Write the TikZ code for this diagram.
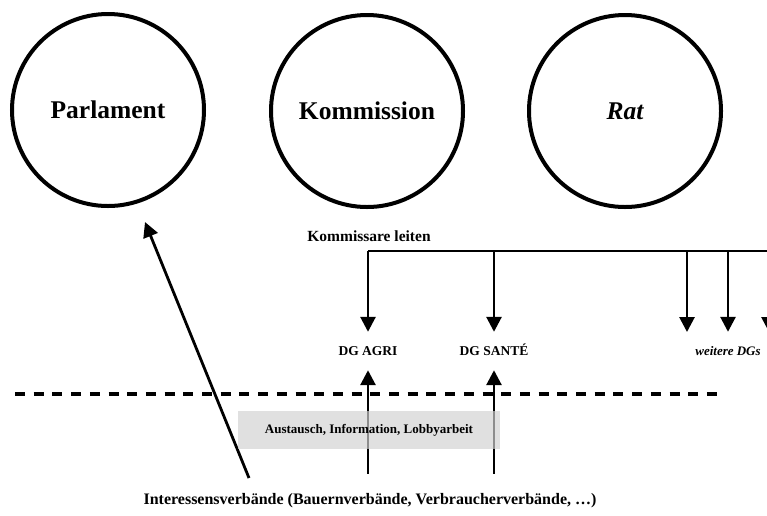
\documentclass[tikz,border=0pt]{standalone}
\usepackage{fontspec}
\setmainfont{Liberation Serif}
\usetikzlibrary{arrows.meta,positioning}

\begin{document}
\begin{tikzpicture}[x=1pt,y=-1pt,>={Triangle[width=15pt,length=15pt]}]
        \tikzstyle{body}=[circle,draw,line width=4pt,minimum size=192pt,inner sep=0pt,font=\bfseries\fontsize{25.5}{30}\selectfont]
        \tikzstyle{dg}=[minimum height=38pt,text height=9pt,text depth=0pt,inner sep=0pt,font=\bfseries\fontsize{13.5}{16}\selectfont]
        \tikzstyle{conn}=[->,line width=2.8pt]
        \useasboundingbox (0,0) rectangle (767,515);
        \clip (0,0) rectangle (767,515);

        % EU institutions
        \node (parl)[body] at (108,110) {Parlament};
        \node (komm)[body] at (367,111) {Kommission};
        \node (rat)[body] at (625,111) {\itshape Rat};

        % Commissioners and DGs
        \node (leiten) at (369,236) {\bfseries\fontsize{15.5}{18}\selectfont Kommissare leiten};
        \coordinate (bar) at (368,251);
        \node (agri)[dg] at (368,351) {DG AGRI};
        \node (sante)[dg] at (494,351) {DG SANTÉ};
        \node (weitere)[dg,font=\bfseries\itshape\fontsize{13}{16}\selectfont] at (728,351) {weitere DGs};
        \coordinate (dgvier) at (687,332);
        \coordinate (dgsechs) at (769,332);

        \draw[line width=2.8pt] (bar) -- ++(420,0);
        \draw[conn] (agri |- bar) -- (agri.north);
        \draw[conn] (sante |- bar) -- (sante.north);
        \draw[conn] (dgvier |- bar) -- (dgvier);
        \draw[conn] (weitere |- bar) -- (weitere.north);
        \draw[conn] (dgsechs |- bar) -- (dgsechs);

        % Boundary
        \coordinate (grenzeL) at (15,394);
        \coordinate (grenzeR) at (717,394);
        \draw[line width=3.2pt,dash pattern=on 10pt off 8.7pt] (grenzeL) -- (grenzeR);

        % Interest groups
        \node (verband)[minimum height=54pt,inner sep=0pt] at (370,501) {\bfseries\fontsize{16}{19}\selectfont Interessensverbände (Bauernverbände, Verbraucherverbände, …)};
        \coordinate (lobby) at (249,478);
        \coordinate (parlspitze) at (145,222);
        \draw[conn] (lobby) -- (parlspitze);
        \draw[conn] (agri |- verband.north) -- (agri.south);
        \draw[conn] (sante |- verband.north) -- (sante.south);

        \node (austausch)[minimum width=262pt,minimum height=38pt,fill=black!18,fill opacity=.68,text opacity=1,font=\bfseries\fontsize{13}{16}\selectfont] at (369,430) {Austausch, Information, Lobbyarbeit};
\end{tikzpicture}
\end{document}
